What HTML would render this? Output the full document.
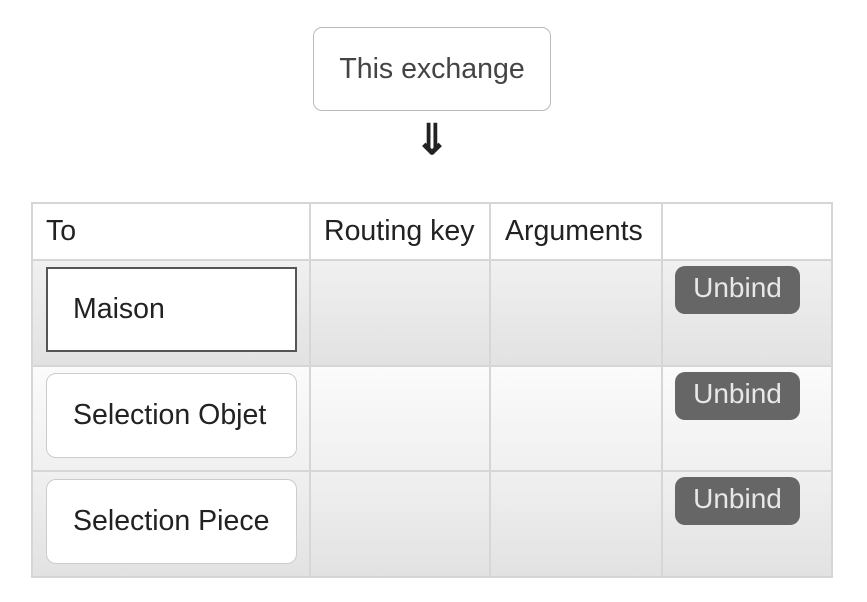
<!DOCTYPE html>
<html><head><style>
body{margin:0;width:867px;height:602px;background:#fff;font-family:"Liberation Sans",sans-serif;position:relative;overflow:hidden}
.a{position:absolute;box-sizing:border-box}
.t{font-size:28.5px;color:#222}
.hl{background:#d6d6d6}
.btn{background:#666;color:#e8e8e8;border-radius:10px;font-size:28px;text-align:center;line-height:44px}
.box{background:#fff;border:1px solid #ccc;border-radius:10px;font-size:28.5px;color:#222;padding-left:26px;display:flex;align-items:center}
</style></head><body>
<div class="a" style="left:313px;top:27px;width:238px;height:84px;border:1px solid #bbb;border-radius:9px;font-size:28.5px;color:#444;display:flex;align-items:center;justify-content:center">This exchange</div>
<div class="a" style="left:412px;top:118px;width:40px;font-size:42px;color:#222;text-align:center;line-height:44px;font-weight:bold">⇓</div>

<div class="a" style="left:31px;top:202px;width:802px;height:376px;background:#d6d6d6"></div>
<div class="a" style="left:33px;top:204px;width:798px;height:55px;background:#fff"></div>
<div class="a" style="left:33px;top:261px;width:798px;height:104px;background:linear-gradient(#f0f0f0,#e2e2e2)"></div>
<div class="a" style="left:33px;top:367px;width:798px;height:103px;background:linear-gradient(#fbfbfb,#f0f0f0)"></div>
<div class="a" style="left:33px;top:472px;width:798px;height:104px;background:linear-gradient(#f0f0f0,#e2e2e2)"></div>
<div class="a hl" style="left:309px;top:202px;width:2px;height:376px"></div>
<div class="a hl" style="left:489px;top:202px;width:2px;height:376px"></div>
<div class="a hl" style="left:661px;top:202px;width:2px;height:376px"></div>

<div class="a t" style="left:46px;top:215px">To</div>
<div class="a t" style="left:324px;top:215px">Routing key</div>
<div class="a t" style="left:505px;top:215px">Arguments</div>

<div class="a" style="left:46px;top:267px;width:251px;height:85px;background:#fff;border:2px solid #555;font-size:28.5px;color:#222;padding-left:25px;display:flex;align-items:center">Maison</div>
<div class="a box" style="left:46px;top:373px;width:251px;height:85px">Selection Objet</div>
<div class="a box" style="left:46px;top:479px;width:251px;height:85px">Selection Piece</div>

<div class="a btn" style="left:675px;top:266px;width:125px;height:48px">Unbind</div>
<div class="a btn" style="left:675px;top:372px;width:125px;height:48px">Unbind</div>
<div class="a btn" style="left:675px;top:477px;width:125px;height:48px">Unbind</div>
</body></html>
